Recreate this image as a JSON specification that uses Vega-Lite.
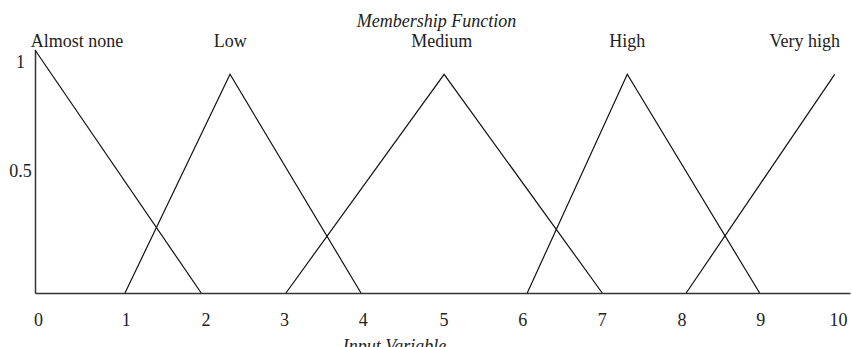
{
  "$schema": "https://vega.github.io/schema/vega-lite/v6.json",
  "autosize": {"type": "none"},
  "width": 815,
  "height": 243,
  "padding": {"left": 35, "top": 50, "right": 2, "bottom": 54},
  "background": "white",
  "config": {
    "view": {"stroke": null},
    "font": "Liberation Serif",
    "text": {"font": "Liberation Serif"}
  },
  "title": {
    "text": "Membership Function",
    "font": "Liberation Serif",
    "fontStyle": "italic",
    "fontWeight": "normal",
    "fontSize": 18,
    "color": "#222",
    "anchor": "middle",
    "frame": "group",
    "baseline": "alphabetic",
    "offset": -12,
    "dx": -6
  },
  "datasets": {
    "curves": [
      {"set": "Almost none", "x": 0, "y": 1},
      {"set": "Almost none", "x": 2.06, "y": 0},
      {"set": "Low", "x": 1.115, "y": 0},
      {"set": "Low", "x": 2.417, "y": 0.9},
      {"set": "Low", "x": 4.04, "y": 0},
      {"set": "Medium", "x": 3.11, "y": 0},
      {"set": "Medium", "x": 5.07, "y": 0.9},
      {"set": "Medium", "x": 7.03, "y": 0},
      {"set": "High", "x": 6.1, "y": 0},
      {"set": "High", "x": 7.34, "y": 0.9},
      {"set": "High", "x": 8.98, "y": 0},
      {"set": "Very high", "x": 8.07, "y": 0},
      {"set": "Very high", "x": 9.91, "y": 0.9}
    ],
    "names": [
      {"set": "Almost none", "x": 0.52, "y": 1.012},
      {"set": "Low", "x": 2.42, "y": 1.012},
      {"set": "Medium", "x": 5.04, "y": 1.012},
      {"set": "High", "x": 7.34, "y": 1.012},
      {"set": "Very high", "x": 9.54, "y": 1.012}
    ]
  },
  "layer": [
    {
      "data": {"name": "curves"},
      "mark": {"type": "line", "color": "#111", "strokeWidth": 1.2, "clip": false},
      "encoding": {
        "x": {
          "field": "x",
          "type": "quantitative",
          "scale": {"domain": [0, 10.1], "nice": false, "zero": false},
          "axis": {
            "title": "Input Variable",
            "values": [0, 1, 2, 3, 4, 5, 6, 7, 8, 9, 10],
            "format": "d",
            "grid": false,
            "ticks": false,
            "tickSize": 0,
            "domainColor": "#333",
            "domainWidth": 1.5,
            "labelFont": "Liberation Serif",
            "labelFontSize": 18,
            "labelColor": "#222",
            "labelPadding": 18,
            "labelFlush": false,
            "labelOverlap": false,
            "labelOffset": {
              "condition": [
                {"test": "datum.value == 0", "value": 3},
                {"test": "datum.value == 1", "value": 10},
                {"test": "datum.value == 2", "value": 9},
                {"test": "datum.value == 3", "value": 7},
                {"test": "datum.value == 4", "value": 5},
                {"test": "datum.value == 5", "value": 5},
                {"test": "datum.value == 6", "value": 3},
                {"test": "datum.value == 7", "value": 2},
                {"test": "datum.value == 8", "value": 1},
                {"test": "datum.value == 9", "value": -1},
                {"test": "datum.value == 10", "value": -4}
              ],
              "value": 0
            },
            "titleFont": "Liberation Serif",
            "titleFontSize": 18,
            "titleFontStyle": "italic",
            "titleFontWeight": "normal",
            "titleColor": "#222",
            "titleX": 359,
            "titleY": 58,
            "titleAlign": "center",
            "titleBaseline": "alphabetic"
          }
        },
        "y": {
          "field": "y",
          "type": "quantitative",
          "scale": {"domain": [0, 1], "nice": false},
          "axis": {
            "title": null,
            "values": [0.5, 1],
            "format": "~g",
            "grid": false,
            "ticks": false,
            "tickSize": 0,
            "domainColor": "#333",
            "domainWidth": 1.5,
            "labelFont": "Liberation Serif",
            "labelFontSize": 18,
            "labelColor": "#222",
            "labelAlign": "center",
            "labelBaseline": "middle",
            "labelPadding": 15,
            "labelFlush": false,
            "labelOffset": {
              "condition": {"test": "datum.value == 1", "value": 12},
              "value": 0
            }
          }
        },
        "detail": {"field": "set"}
      }
    },
    {
      "data": {"name": "names"},
      "mark": {"type": "text", "font": "Liberation Serif", "fontSize": 18, "color": "#222", "baseline": "alphabetic", "align": "center", "clip": false},
      "encoding": {
        "x": {"field": "x", "type": "quantitative"},
        "y": {"field": "y", "type": "quantitative"},
        "text": {"field": "set"}
      }
    }
  ]
}
